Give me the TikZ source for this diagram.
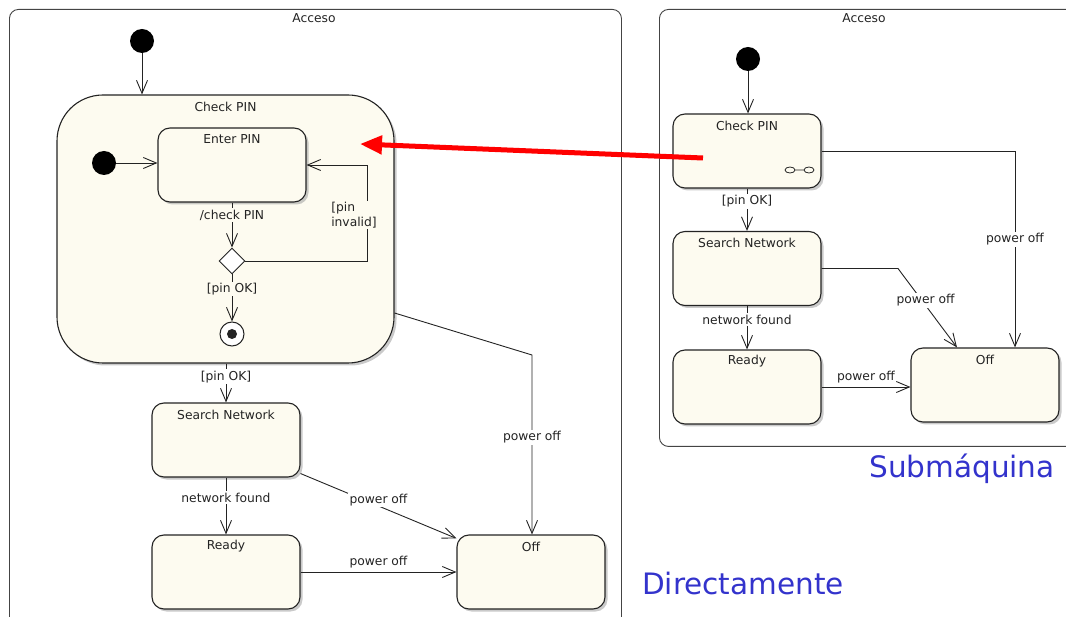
\documentclass[tikz,border=0pt]{standalone}
\usepackage{fontspec}
\setmainfont{DejaVu Sans}
\usetikzlibrary{arrows.meta,shapes.geometric,shadows}
\definecolor{cream}{RGB}{253,251,240}
\definecolor{ink}{RGB}{35,35,35}
\definecolor{slideblue}{RGB}{51,51,204}
\tikzset{
  umlfont/.style={font=\fontsize{12.3}{15}\selectfont, text=ink},
  frame/.style={draw=ink!85, line width=0.9pt, rounded corners=9pt},
  statebox/.style={draw=ink, line width=1.1pt, fill=cream, rounded corners=12pt,
    drop shadow={shadow xshift=2.5pt, shadow yshift=-2.5pt, fill=black!35, opacity=0.6}},
  smallstate/.style={statebox, minimum width=148pt, minimum height=74pt},
  initial/.style={circle, fill=black, minimum size=24pt, inner sep=0pt},
  finalstate/.style={circle, draw=ink, line width=1pt, fill=white, minimum size=24pt, inner sep=0pt},
  choice/.style={diamond, draw=ink, line width=0.9pt, fill=white, minimum width=26pt, minimum height=26pt, inner sep=0pt},
  trans/.style={draw=ink, line width=0.9pt, -{Straight Barb[length=13pt, width=11pt, line width=0.9pt]}},
  title/.style={umlfont, yshift=-12pt},
  lbl/.style={umlfont, fill=white, inner sep=1.5pt},
  lblin/.style={umlfont, fill=cream, inner sep=1.5pt},
  bigtext/.style={font=\fontsize{29.5}{34}\selectfont, text=slideblue},
}
\begin{document}
\begin{tikzpicture}[x=1pt, y=-1pt]
  \useasboundingbox (0,0) rectangle (1066,617);
  \clip (0,0) rectangle (1066,617);

  % ---------- left: nested state machine ----------
  \node[frame, minimum width=612pt, minimum height=640pt, anchor=north west] (lacc) at (9,9) {};
  \node[umlfont] (laccT) at (314,18) {Acceso};

  \node[initial] (li) at (142,41) {};
  \node[statebox, rounded corners=46pt, minimum width=337pt, minimum height=268pt] (lcp) at (225.5,229) {};
  \node[title] (lcpT) at (lcp.north) {Check PIN};

  \node[smallstate] (lep) at (232,165) {};
  \node[title] (lepT) at (lep.north) {Enter PIN};
  \node[initial] (lii) at (104,163) {};
  \node[choice] (ldia) at (232,261) {};
  \node[finalstate] (lfin) at (232,334) {};
  \fill[ink] (lfin) circle (5pt);

  \node[smallstate] (lsn) at (226,440) {};
  \node[title] (lsnT) at (lsn.north) {Search Network};
  \node[smallstate] (lrd) at (226,572) {};
  \node[title] (lrdT) at (lrd.north) {Ready};
  \node[smallstate] (loff) at (531,572) {};
  \node[title] (loffT) at (loff.north) {Off};

  \draw[trans] (li) -- (li |- lcp.north);
  \draw[trans] (lii) -- (lep.west |- lii);
  \draw[trans] (lep.south) -- node[lblin, pos=0.28] (lchk) {/check PIN} (ldia.north);
  \draw[trans] (ldia.east) -| ([xshift=61pt]lep.east) -- (lep.east);
  \node[lblin, align=left] (linv) at (354,215) {[pin\\invalid]};
  \draw[trans] (ldia.south) -- node[lblin, pos=0.31] (lok1) {[pin OK]} (lfin.north);
  \draw[trans] (lcp.south -| lsn) -- node[lbl, pos=0.34] (lok2) {[pin OK]} (lsn.north);
  \draw[trans] (lsn.south) -- node[lbl, pos=0.35] (lnf) {network found} (lrd.north);
  \draw[trans] (lrd.east) -- node[umlfont, above] (lpo1) {power off} (loff.west);
  \draw[trans] ([yshift=4pt]lsn.south east) -- node[lbl, pos=0.5, yshift=6pt] (lpo2) {power off} ([yshift=-4pt]loff.north west);
  \coordinate (lbend) at (532,355);
  \draw[trans] ([yshift=-84pt]lcp.east) -- (lbend)
    -- node[lbl, pos=0.46] (lpo3) {power off} (lbend |- loff.north);

  % ---------- right: submachine reference ----------
  \node[frame, minimum width=420pt, minimum height=437pt, anchor=north west] (racc) at (659,9) {};
  \node[umlfont] (raccT) at (864,18) {Acceso};

  \node[initial] (ri) at (748,59) {};
  \node[smallstate] (rcp) at (747,151) {};
  \node[title] (rcpT) at (rcp.north) {Check PIN};
  \node[smallstate] (rsn) at (747,268.5) {};
  \node[title] (rsnT) at (rsn.north) {Search Network};
  \node[smallstate] (rrd) at (747,387) {};
  \node[title] (rrdT) at (rrd.north) {Ready};
  \node[smallstate] (roff) at (985,385) {};
  \node[title] (roffT) at (roff.north) {Off};

  % submachine icon
  \draw[ink, line width=0.8pt] (790,170) ellipse (5pt and 3pt) (809,170) ellipse (5pt and 3pt)
    (795,170) -- (804,170);

  \draw[trans] (ri) -- (ri |- rcp.north);
  \draw[trans] (rcp.south) -- node[lbl, pos=0.3] (rok) {[pin OK]} (rsn.north);
  \draw[trans] (rsn.south) -- node[lbl, pos=0.31] (rnf) {network found} (rrd.north);
  \draw[trans] (rrd.east) -- node[umlfont, above] (rpo1) {power off} (rrd.east -| roff.west);
  \coordinate (rb1) at (898,268.5);
  \draw[trans] (rsn.east) -- (rb1) -- node[lbl, pos=0.4, xshift=4pt] (rpo2) {power off} ([xshift=-28pt]roff.north);
  \coordinate (rb2) at (1015,151);
  \draw[trans] (rcp.east) -- (rb2) -- node[lbl, pos=0.45] (rpo3) {power off} (rb2 |- roff.north);

  % ---------- pointer from submachine state to its expansion ----------
  \coordinate (psrc) at (703,158);
  \coordinate (pdst) at (360,144);
  \draw[red, line width=5pt, -{Triangle[length=22pt, width=18pt]}] (psrc) -- (pdst);

  % ---------- captions ----------
  \node[bigtext] (capsub) at (962,469) {Submáquina};
  \node[bigtext] (capdir) at (743,584) {Directamente};
\end{tikzpicture}
\end{document}
